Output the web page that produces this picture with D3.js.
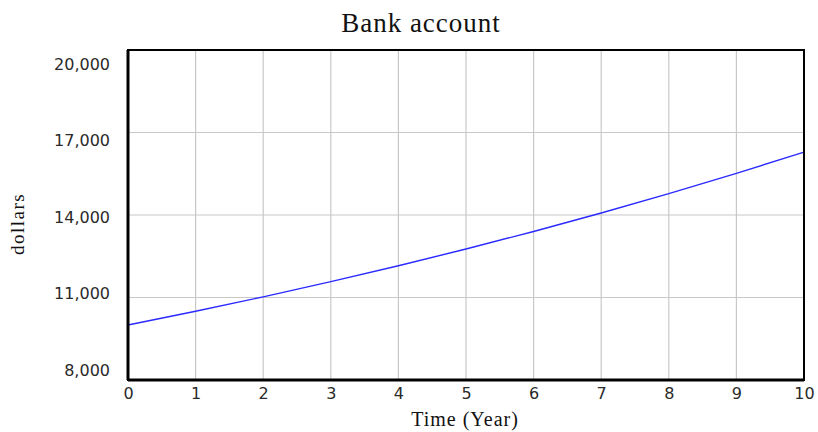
<!DOCTYPE html>
<html>
<head>
<meta charset="utf-8">
<script src="https://cdn.jsdelivr.net/npm/d3@7"></script>
<style>
  body { margin: 0; background: #fff; }
</style>
</head>
<body>
<div id="chart"></div>
<script>
const years = [0, 1, 2, 3, 4, 5, 6, 7, 8, 9, 10];
const balance = [10000, 10500, 11025, 11576, 12155, 12763, 13401, 14071, 14775, 15513, 16289];
const yTicks = [8000, 11000, 14000, 17000, 20000];
const xTicks = [0, 1, 2, 3, 4, 5, 6, 7, 8, 9, 10];

const W = 818, H = 432;
const margin = { top: 50, right: 14, bottom: 52, left: 128 };
const width = W - margin.left - margin.right;
const height = H - margin.top - margin.bottom;

const svg = d3.select("#chart").append("svg")
    .attr("width", W)
    .attr("height", H);

const g = svg.append("g")
    .attr("transform", `translate(${margin.left},${margin.top})`);

const x = d3.scaleLinear().domain([0, 10]).range([0, width]);
const y = d3.scaleLinear().domain([8000, 20000]).range([height, 0]);
// tick labels sit slightly inside the axis ends, as in the original
const yLabel = d3.scaleLinear().domain([8000, 20000]).range([height - 10, 14]);

// grid
g.selectAll(".vgrid").data(xTicks).enter().append("line")
    .attr("x1", d => x(d)).attr("x2", d => x(d))
    .attr("y1", 0).attr("y2", height)
    .attr("stroke", "#c8c8c8").attr("stroke-width", 1.2);
g.selectAll(".hgrid").data(yTicks).enter().append("line")
    .attr("x1", 0).attr("x2", width)
    .attr("y1", d => y(d)).attr("y2", d => y(d))
    .attr("stroke", "#c8c8c8").attr("stroke-width", 1.2);

// line
const line = d3.line()
    .x((d, i) => x(years[i]))
    .y(d => y(d));

g.append("path")
    .datum(balance)
    .attr("fill", "none")
    .attr("stroke", "#2a2aff")
    .attr("stroke-width", 1.4)
    .attr("d", line);

// frame
g.append("rect")
    .attr("x", 0).attr("y", 0)
    .attr("width", width).attr("height", height)
    .attr("fill", "none")
    .attr("stroke", "#000").attr("stroke-width", 2);
g.append("line").attr("x1", 0).attr("x2", 0).attr("y1", 0).attr("y2", height)
    .attr("stroke", "#000").attr("stroke-width", 3);
g.append("line").attr("x1", 0).attr("x2", width).attr("y1", height).attr("y2", height)
    .attr("stroke", "#000").attr("stroke-width", 3);

// axes
const yAxis = g.append("g")
    .call(d3.axisLeft(yLabel).tickValues(yTicks).tickSize(0).tickPadding(18).tickFormat(d3.format(",")));
yAxis.select(".domain").remove();
yAxis.selectAll("text")
    .attr("font-family", "DejaVu Sans, Verdana, sans-serif")
    .attr("font-size", 16)
    .attr("fill", "#2a2a2a");

const xAxis = g.append("g")
    .attr("transform", `translate(0,${height})`)
    .call(d3.axisBottom(x).tickValues(xTicks).tickSize(0).tickPadding(8).tickFormat(d3.format("d")));
xAxis.select(".domain").remove();
xAxis.selectAll("text")
    .attr("font-family", "DejaVu Sans, Verdana, sans-serif")
    .attr("font-size", 16)
    .attr("fill", "#2a2a2a");

// titles
svg.append("text")
    .attr("x", 421).attr("y", 32)
    .attr("text-anchor", "middle")
    .attr("font-family", "Liberation Serif, Times New Roman, serif")
    .attr("font-size", 27)
    .attr("letter-spacing", 1)
    .attr("fill", "#111")
    .text("Bank account");

svg.append("text")
    .attr("x", 465).attr("y", 426)
    .attr("text-anchor", "middle")
    .attr("font-family", "Liberation Serif, Times New Roman, serif")
    .attr("font-size", 20)
    .attr("letter-spacing", 1)
    .attr("fill", "#111")
    .text("Time (Year)");

svg.append("text")
    .attr("transform", `translate(24,224) rotate(-90)`)
    .attr("text-anchor", "middle")
    .attr("font-family", "Liberation Serif, Times New Roman, serif")
    .attr("font-size", 19)
    .attr("letter-spacing", 1.5)
    .attr("fill", "#111")
    .text("dollars");
</script>
</body>
</html>
